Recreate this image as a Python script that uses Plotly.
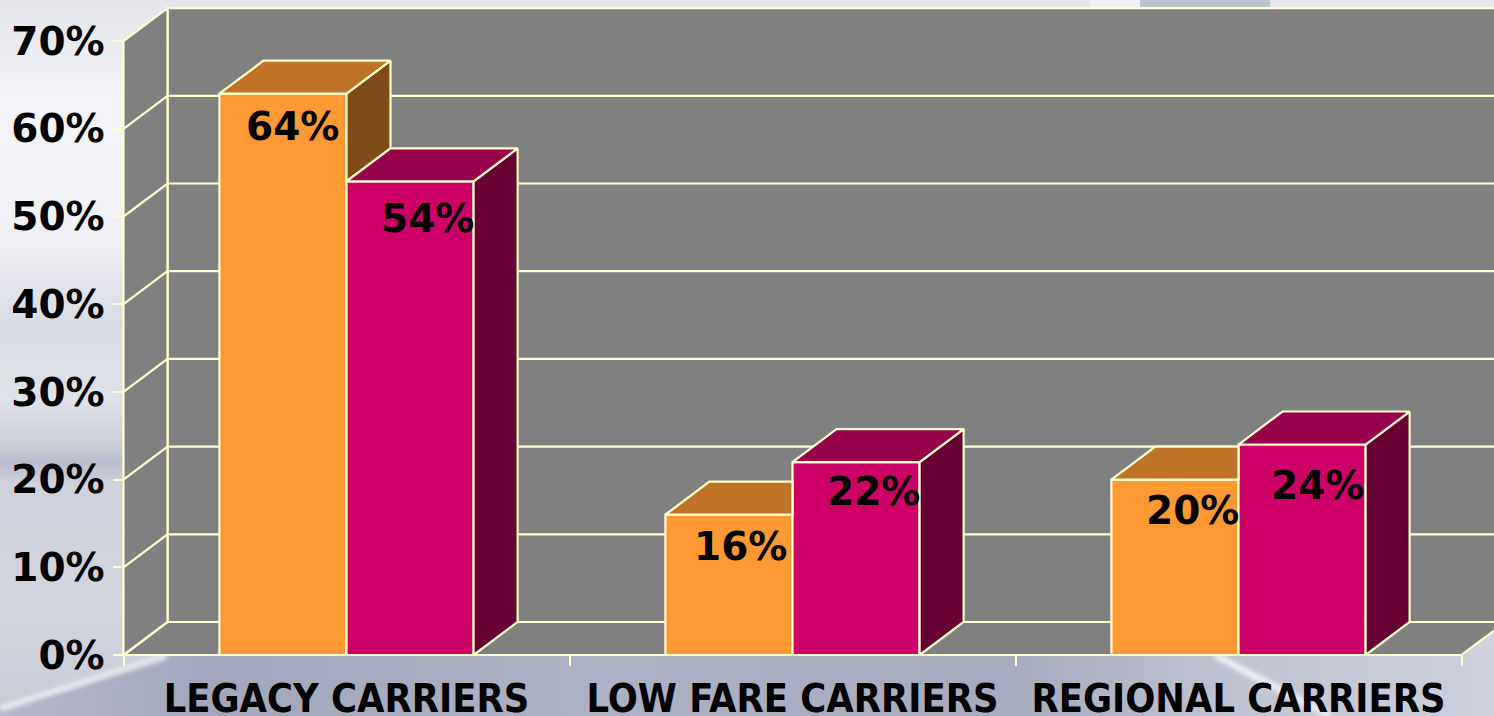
import base64
import plotly.graph_objects as go

# ---- data ----
categories = ["LEGACY CARRIERS", "LOW FARE CARRIERS", "REGIONAL CARRIERS"]
series_a = [64, 16, 20]
series_b = [54, 22, 24]
y_ticks = [0, 10, 20, 30, 40, 50, 60, 70]

# ---- style ----
FONT = "DejaVu Sans"
FONT_X = "DejaVu Sans Condensed, DejaVu Sans"
EDGE = "#FFFFCC"
LINE_W = 2.2
WALL = "#808080"
COL_A = ("#FF9933", "#BF7326", "#7F4C19")   # front, top, side
COL_B = ("#CC0066", "#99004C", "#660033")
BARGAP = 0.43
BAR_W = (1 - BARGAP) / 2
DX, DY = 44 / 446, 33 / 8.77               # oblique depth of the 3-D look, in axis units
LABEL_SHIFT_A = [(10, -33), (12, -32), (18, -31)]
LABEL_SHIFT_B = [(17, -37), (17, -29), (15, -41)]
W, H = 1494, 716
L, B = 118, 50
X0_PX = 123.5
PX_W, PX_H = W - L, H - B

centers = [i + 0.5 for i in range(len(categories))]

background_svg = f"""<svg xmlns='http://www.w3.org/2000/svg' width='{W}' height='{H}' viewBox='0 0 {W} {H}'>
<defs>
<linearGradient id='v' x1='0' y1='0' x2='0' y2='1'>
<stop offset='0' stop-color='#e4e6ec'/><stop offset='0.14' stop-color='#f3f3f8'/>
<stop offset='0.34' stop-color='#f0f0f5'/><stop offset='0.45' stop-color='#d9dbe3'/>
<stop offset='0.56' stop-color='#dfe1e8'/><stop offset='0.625' stop-color='#c9ccd6'/>
<stop offset='0.645' stop-color='#b9bccb'/><stop offset='0.675' stop-color='#cfd2dc'/>
<stop offset='0.85' stop-color='#d2d4de'/><stop offset='1' stop-color='#c8ccd6'/>
</linearGradient>
<linearGradient id='h' x1='0' y1='0' x2='1' y2='0'>
<stop offset='0' stop-color='#b4b8c8'/><stop offset='0.14' stop-color='#a2a7bb'/>
<stop offset='0.4' stop-color='#acb1c3'/><stop offset='0.68' stop-color='#a6abbe'/>
<stop offset='0.84' stop-color='#c2c6d3'/><stop offset='1' stop-color='#cdd0dc'/>
</linearGradient>
<filter id='b'><feGaussianBlur stdDeviation='2'/></filter>
</defs>
<rect width='{W}' height='{H}' fill='url(#v)'/>
<polygon points='0,709 167,655 1494,655 1494,716 0,716' fill='url(#h)'/>
<path d='M0,709 L167,656' stroke='#e8eaf0' stroke-width='6' filter='url(#b)'/>
<path d='M1215,655 L1330,716' stroke='#eceef3' stroke-width='7' filter='url(#b)'/>
<rect x='1090' y='0' width='50' height='9' fill='#f0f0f5'/>
<rect x='1140' y='0' width='130' height='9' fill='#b9c5d1'/>
<rect x='1270' y='0' width='224' height='9' fill='#e6e8ee'/>
</svg>"""
background_uri = "data:image/svg+xml;base64," + base64.b64encode(background_svg.encode()).decode()


def poly_path(points):
    return "M" + " L".join(f"{x},{y}" for x, y in points) + " Z"


def wall_shape(points):
    return dict(type="path", path=poly_path(points), xref="x", yref="y", layer="below",
                fillcolor=WALL, line=dict(color=EDGE, width=LINE_W))


n = len(categories)
top = y_ticks[-1]
shapes = [
    wall_shape([(0, 0), (DX, DY), (n + DX, DY), (n, 0)]),
    wall_shape([(DX, DY), (n + DX, DY), (n + DX, top + DY), (DX, top + DY)]),
    wall_shape([(0, 0), (DX, DY), (DX, top + DY), (0, top)]),
]
for t in y_ticks[1:-1]:
    shapes.append(dict(type="path", path=f"M0,{t} L{DX},{t + DY} L{n + DX},{t + DY}", xref="x", yref="y",
                       layer="below", line=dict(color=EDGE, width=LINE_W)))

fig = go.Figure()
fig.add_bar(x=centers, y=series_a, name="Series A", marker=dict(color=COL_A[0], line=dict(color=EDGE, width=LINE_W)),
            hoverinfo="skip")
fig.add_bar(x=centers, y=series_b, name="Series B", marker=dict(color=COL_B[0], line=dict(color=EDGE, width=LINE_W)),
            hoverinfo="skip")


def add_poly(points, color):
    xs, ys = zip(*(points + points[:1]))
    fig.add_scatter(x=list(xs), y=list(ys), mode="lines", fill="toself", fillcolor=color,
                    line=dict(color=EDGE, width=LINE_W), hoverinfo="skip", showlegend=False)


for c, a, b in zip(centers, series_a, series_b):
    x0, x1, x2 = c - BAR_W, c, c + BAR_W
    if b > a:  # neighbour hides the right part of the top face
        add_poly([(x0, a), (x1, a), (x1, a + DY), (x0 + DX, a + DY)], COL_A[1])
    else:
        add_poly([(x1, a), (x1 + DX, a + DY), (x1 + DX, b + DY), (x1, b)], COL_A[2])
        add_poly([(x0, a), (x1, a), (x1 + DX, a + DY), (x0 + DX, a + DY)], COL_A[1])
    add_poly([(x2, 0), (x2 + DX, DY), (x2 + DX, b + DY), (x2, b)], COL_B[2])
    add_poly([(x1, b), (x2, b), (x2 + DX, b + DY), (x1 + DX, b + DY)], COL_B[1])

annotations = []
for values, shifts, side in ((series_a, LABEL_SHIFT_A, -0.5), (series_b, LABEL_SHIFT_B, 0.5)):
    for c, v, (sx, sy) in zip(centers, values, shifts):
        annotations.append(dict(x=c + side * BAR_W, y=v, xref="x", yref="y", text=f"{v}%", showarrow=False,
                                xshift=sx, yshift=sy, font=dict(family=FONT, size=39, color="black", weight="bold")))

fig.update_layout(
    width=W, height=H, showlegend=False, barmode="group", bargap=BARGAP, bargroupgap=0,
    margin=dict(l=L, r=0, t=0, b=B, autoexpand=False),
    paper_bgcolor="#d8dae2", plot_bgcolor="rgba(0,0,0,0)",
    shapes=shapes, annotations=annotations,
    images=[dict(source=background_uri, xref="paper", yref="paper", x=-L / PX_W, y=1,
                 sizex=W / PX_W, sizey=H / PX_H, xanchor="left", yanchor="top",
                 sizing="stretch", layer="below")],
    xaxis=dict(range=[(L - X0_PX) / 446, (W - X0_PX) / 446], anchor="free", position=11 / PX_H,
               tickmode="array", tickvals=centers, ticktext=categories, ticks="", showgrid=False,
               zeroline=False, showline=False, ticklabelstandoff=17,
               tickfont=dict(family=FONT_X, size=39.4, color="black", weight="bold"),
               minor=dict(tickmode="array", tickvals=list(range(n + 1)), ticks="outside", ticklen=10,
                          tickwidth=1.5, tickcolor=EDGE, showgrid=False)),
    yaxis=dict(range=[-11 / 8.77, 655 / 8.77], anchor="free", position=(X0_PX - L) / PX_W,
               tickmode="array", tickvals=y_ticks, ticktext=[f"{t}%" for t in y_ticks],
               ticks="outside", ticklen=11, tickwidth=2, tickcolor=EDGE, showgrid=False,
               zeroline=False, showline=False, ticklabelstandoff=0,
               tickfont=dict(family=FONT, size=39, color="black", weight="bold")),
)

fig.write_html("out.html", config=dict(displayModeBar=False),
               post_script="document.body.style.margin='0';document.body.style.overflow='hidden';")
